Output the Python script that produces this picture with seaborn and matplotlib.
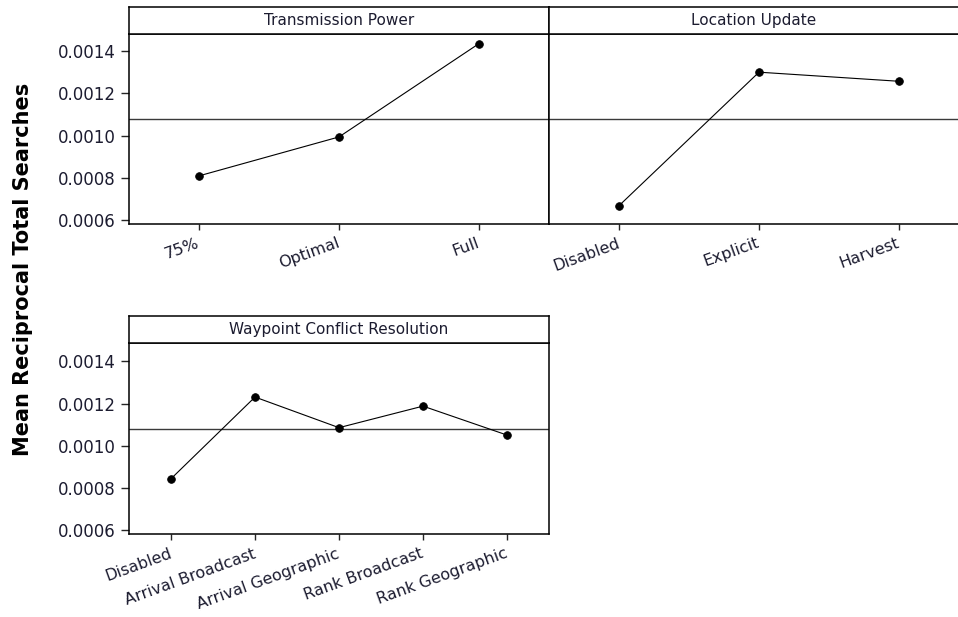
import numpy as np
import pandas as pd
import matplotlib
matplotlib.use('Agg')
import matplotlib.pyplot as plt
import seaborn as sns

# main effect means
power_levels = ['75%', 'Optimal', 'Full']
power_means = [0.000810, 0.000994, 0.001435]

location_levels = ['Disabled', 'Explicit', 'Harvest']
location_means = [0.000669, 0.001300, 0.001257]

waypoint_levels = ['Disabled', 'Arrival Broadcast', 'Arrival Geographic',
                   'Rank Broadcast', 'Rank Geographic']
waypoint_means = [0.000844, 0.001231, 0.001086, 0.001188, 0.001051]

grand_mean = 0.001079
y_ticks = [0.0006, 0.0008, 0.0010, 0.0012, 0.0014]
y_label = 'Mean Reciprocal Total Searches'

sns.set_style('white')
plt.rcParams['font.family'] = ['DejaVu Sans']

W, H = 958, 617
fig = plt.figure(figsize=(W / 100, H / 100), dpi=100)


def px_box(x0, y0, x1, y1):
    return [x0 / W, 1 - y1 / H, (x1 - x0) / W, (y1 - y0) / H]


def panel(levels, means, title, x0, x1, y_top, y_strip, y_bot, ylim, show_y=True):
    ax = fig.add_axes(px_box(x0, y_strip, x1, y_bot))
    df = pd.DataFrame({'level': levels, 'mean': means})
    ax.axhline(grand_mean, color='#3a3a3a', lw=1.0, zorder=1)
    sns.pointplot(data=df, x='level', y='mean', order=levels, color='black',
                  markers='o', markersize=5.5, linewidth=0.8, ax=ax, zorder=3)
    ax.set_xlim(-0.5, len(levels) - 0.5)
    ax.set_ylim(*ylim)
    ax.set_yticks(y_ticks)
    ax.set_xlabel('')
    ax.set_ylabel('')
    for s in ax.spines.values():
        s.set_color('black')
        s.set_linewidth(1.1)
    ax.tick_params(axis='x', length=4.5, width=1.0, pad=9, labelsize=11.5,
                   labelcolor='#1c1c30', bottom=True)
    ax.tick_params(axis='y', length=5.5, width=1.0, pad=4, labelsize=12,
                   labelcolor='#1c1c30', left=show_y, labelleft=show_y)
    if show_y:
        ax.set_yticklabels([f'{t:.4f}' for t in y_ticks])
    for lab in ax.get_xticklabels():
        lab.set_rotation(20)
        lab.set_ha('right')
        lab.set_va('center')
        lab.set_rotation_mode('anchor')
    # strip with factor name
    st = fig.add_axes(px_box(x0, y_top, x1, y_strip))
    st.set_xticks([])
    st.set_yticks([])
    st.set_facecolor('white')
    for s in st.spines.values():
        s.set_color('black')
        s.set_linewidth(1.1)
    tx = 0.5 * (min(x1, W) - x0) / (x1 - x0) if x1 > W else 0.5
    st.text(tx, 0.5, title, transform=st.transAxes, ha='center', va='center',
            fontsize=11, color='#1c1c30')
    return ax


panel(power_levels, power_means, 'Transmission Power',
      129, 549, 7, 34.3, 223.7, (0.000584, 0.001479))
panel(location_levels, location_means, 'Location Update',
      549, 969, 7, 34.3, 223.7, (0.000584, 0.001479), show_y=False)
panel(waypoint_levels, waypoint_means, 'Waypoint Conflict Resolution',
      129, 549, 316, 343, 534.3, (0.000581, 0.001487))

fig.text(23.5 / W, 1 - 269 / H, y_label, rotation=90, ha='center', va='center',
         fontsize=15, fontweight='bold', color='black')

fig.savefig('out.png', dpi=100, facecolor='white')
